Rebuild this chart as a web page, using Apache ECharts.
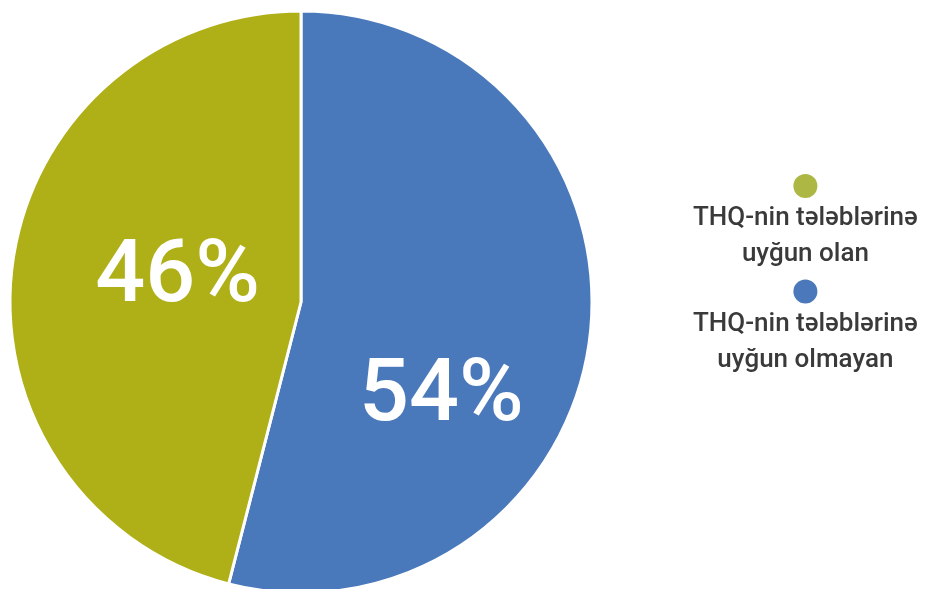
<!DOCTYPE html>
<html>
<head>
<meta charset="utf-8">
<style>html,body{margin:0;padding:0;background:#fff;}#c{width:926px;height:589px;}</style>
<script src="https://cdn.jsdelivr.net/npm/echarts@6/dist/echarts.min.js"></script>
</head>
<body>
<div id="c"></div>
<script>
const categories = ['THQ-nin tələblərinə uyğun olmayan', 'THQ-nin tələblərinə uyğun olan'];
const values = [54, 46];
const legendOrder = ['THQ-nin tələblərinə uyğun olan', 'THQ-nin tələblərinə uyğun olmayan'];

const sliceColors = ['#4A79BB', '#AFAF17'];
const dotColors = {'THQ-nin tələblərinə uyğun olan': '#ADB844', 'THQ-nin tələblərinə uyğun olmayan': '#4A78BA'};
const labelOffsets = [[-7, 77], [24, -4]];

const chart = echarts.init(document.getElementById('c'));
const textBase = {fontFamily: 'Roboto', fontSize: 26, fontWeight: 500, color: '#3a3a3a', align: 'center'};
const rich = {
  t1: Object.assign({}, textBase, {lineHeight: 41}),
  t: Object.assign({}, textBase, {lineHeight: 31})
};
legendOrder.forEach((n, i) => {
  rich['d' + i] = {width: 24, height: 24, borderRadius: 12, backgroundColor: dotColors[n], align: 'center'};
});
chart.setOption({
  animation: false,
  legend: {
    data: legendOrder,
    orient: 'vertical',
    left: 688,
    top: 174,
    padding: 0,
    itemWidth: 0,
    itemHeight: 0,
    icon: 'none',
    itemGap: 12,
    selectedMode: false,
    formatter: function (name) {
      const i = legendOrder.indexOf(name);
      const words = name.split(' ');
      const l1 = words.slice(0, 2).join(' ');
      const l2 = words.slice(2).join(' ');
      return '{d' + i + '| }\n{t1|' + l1 + '}\n{t|' + l2 + '}';
    },
    textStyle: {rich: rich, padding: 0}
  },
  series: [{
    type: 'pie',
    center: [301, 302],
    radius: 291,
    startAngle: 90,
    clockwise: true,
    silent: true,
    itemStyle: {borderColor: '#fff', borderWidth: 3},
    label: {
      show: true,
      position: 'inside',
      formatter: '{c}%',
      color: '#fff',
      fontFamily: 'Roboto',
      fontSize: 88,
      fontWeight: 500
    },
    labelLine: {show: false},
    data: categories.map((n, i) => ({
      name: n,
      value: values[i],
      itemStyle: {color: sliceColors[i]},
      label: {offset: labelOffsets[i]}
    }))
  }]
});
</script>
</body>
</html>
